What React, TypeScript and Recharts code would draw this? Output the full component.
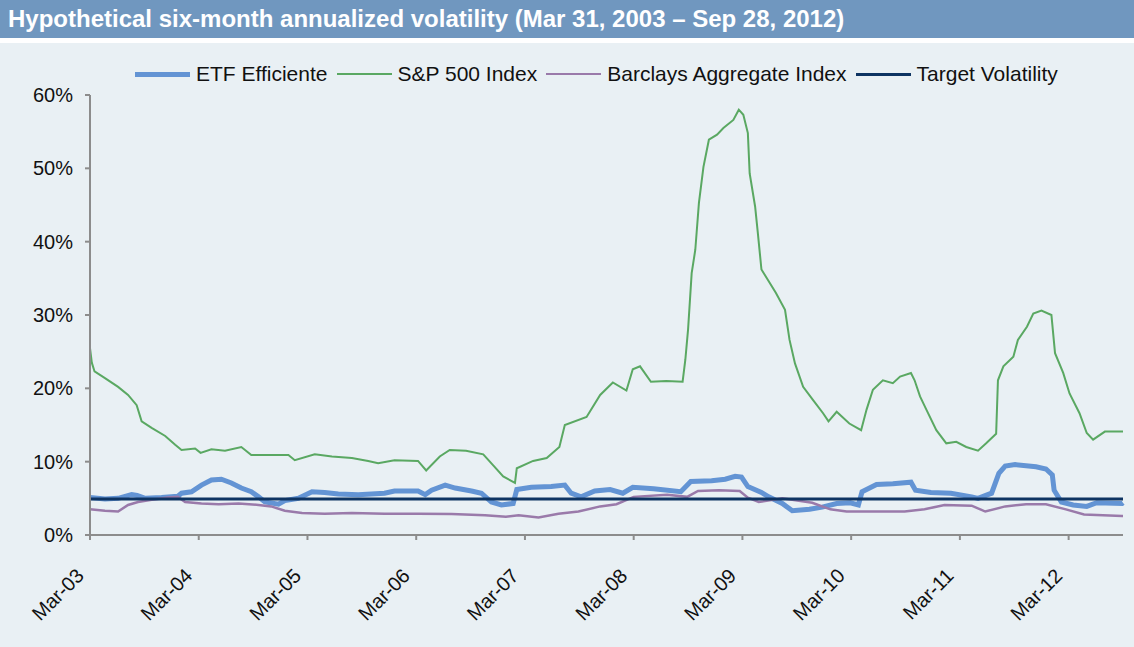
import { LineChart, Line, XAxis, YAxis } from 'recharts'

// x = months since Mar-03, y = annualized volatility in %
const yearTicks = [0, 12, 24, 36, 48, 60, 72, 84, 96, 108]
const yearLabels = ['Mar-03', 'Mar-04', 'Mar-05', 'Mar-06', 'Mar-07', 'Mar-08', 'Mar-09', 'Mar-10', 'Mar-11', 'Mar-12']
const pctTicks = [0, 10, 20, 30, 40, 50, 60]

const etfMonths = [0, 1.65, 3.1, 4.6, 5.2, 6.1, 7.9, 9.7, 10.1, 11.2, 12.3, 13.4, 14.5, 15.6, 16.7, 17.8, 18.6, 19.3, 20.8, 21.5, 23, 24.5, 25.9, 27.4, 29.6, 32.5, 33.6, 36.2, 37, 37.7, 39.2, 40.3, 42.1, 43.2, 44.3, 45.4, 46.7, 47.1, 48.7, 50.9, 52.4, 53.1, 54.2, 55.7, 57.4, 58.8, 59.9, 62.2, 65.2, 66.3, 68.6, 70.1, 71.2, 71.9, 72.6, 74.1, 74.9, 76.4, 77.5, 79.4, 80.8, 82.4, 83.9, 84.8, 85.2, 86.8, 88.6, 90.6, 91.1, 92.8, 95.0, 97.3, 98.0, 99.5, 100.3, 101.0, 102.1, 104.4, 105.5, 106.2, 106.4, 107.2, 108.5, 110.0, 111.1, 113.9, 114]
const etfValues = [5.1, 4.9, 5.0, 5.5, 5.4, 5.0, 5.1, 5.3, 5.7, 5.9, 6.8, 7.5, 7.6, 7.1, 6.4, 5.9, 5.2, 4.5, 4.2, 4.7, 5.0, 5.9, 5.8, 5.6, 5.5, 5.7, 6.0, 6.0, 5.5, 6.1, 6.8, 6.4, 6.0, 5.7, 4.5, 4.1, 4.3, 6.2, 6.5, 6.6, 6.8, 5.7, 5.2, 6.0, 6.2, 5.7, 6.5, 6.3, 5.9, 7.3, 7.4, 7.6, 8.0, 7.9, 6.6, 5.8, 5.2, 4.3, 3.3, 3.5, 3.8, 4.3, 4.4, 4.1, 5.9, 6.9, 7.0, 7.2, 6.1, 5.8, 5.7, 5.2, 5.0, 5.7, 8.4, 9.4, 9.6, 9.3, 9.0, 8.2, 6.1, 4.5, 4.1, 3.9, 4.4, 4.3, 4.4]

const spxMonths = [0, 0.2, 0.5, 1.65, 3.1, 4.2, 5.15, 5.7, 6.8, 8.3, 9.4, 10.1, 11.6, 12.2, 13.4, 14.9, 16.7, 17.8, 21.9, 22.6, 24.8, 26.7, 28.9, 30.7, 31.8, 33.6, 36.2, 37.1, 38.6, 39.7, 41.5, 43.4, 44.5, 45.6, 46.9, 47.1, 48.9, 50.4, 51.8, 52.4, 54.8, 56.3, 57.7, 59.2, 59.9, 60.7, 61.9, 63.6, 65.4, 65.7, 66, 66.4, 66.8, 67.2, 67.7, 68.3, 69.2, 69.9, 71, 71.6, 72.1, 72.6, 72.8, 73.4, 73.7, 74.1, 74.8, 75.7, 76.7, 77.2, 77.8, 78.7, 79.8, 80.9, 81.5, 82.4, 83.8, 85.1, 85.7, 86.4, 87.5, 88.6, 89.4, 90.6, 91, 91.6, 92.3, 93.4, 94.5, 95.6, 96.7, 98, 98.9, 100, 100.2, 100.8, 101.9, 102.4, 103.4, 104.1, 105, 106.1, 106.5, 107.4, 108.1, 109.2, 110, 110.7, 112, 114]
const spxValues = [25.5, 23.5, 22.3, 21.4, 20.2, 19.1, 17.7, 15.5, 14.6, 13.5, 12.3, 11.6, 11.8, 11.2, 11.7, 11.5, 12.0, 10.9, 10.9, 10.2, 11.0, 10.7, 10.5, 10.1, 9.8, 10.2, 10.1, 8.8, 10.7, 11.6, 11.5, 11.0, 9.5, 8.0, 7.1, 9.1, 10.1, 10.5, 12.0, 15.0, 16.1, 19.1, 20.8, 19.7, 22.6, 23.0, 20.9, 21.0, 20.9, 23.9, 28.0, 35.7, 38.9, 45.3, 50.2, 53.9, 54.6, 55.5, 56.6, 58.0, 57.3, 54.8, 49.3, 44.8, 41.2, 36.2, 34.8, 33.0, 30.7, 26.6, 23.4, 20.2, 18.4, 16.6, 15.5, 16.8, 15.2, 14.3, 17.1, 19.8, 21.1, 20.7, 21.6, 22.1, 21.1, 18.9, 17.1, 14.3, 12.5, 12.7, 12.0, 11.5, 12.5, 13.8, 21.1, 23.0, 24.3, 26.6, 28.4, 30.2, 30.6, 30.0, 24.8, 22.1, 19.3, 16.6, 13.9, 13.0, 14.1, 14.1]

const aggMonths = [0, 1.65, 3.1, 4.2, 5.3, 6.8, 8.6, 9.7, 10.5, 12.3, 14.2, 16.4, 18.6, 20, 21.5, 23.4, 25.9, 28.9, 32.5, 36.2, 39.9, 43.6, 45.9, 47.3, 49.5, 51.7, 53.9, 56.3, 58.1, 60.0, 63.7, 65.9, 67.1, 69.4, 71.7, 72.6, 73.8, 76.4, 79.7, 81.7, 83.5, 86.3, 89.9, 92.1, 94.3, 97.3, 98.8, 101.0, 103.3, 105.5, 107.7, 109.7, 113.9, 114]
const aggValues = [3.5, 3.3, 3.2, 4.1, 4.5, 4.8, 5.1, 5.2, 4.5, 4.3, 4.2, 4.3, 4.1, 3.9, 3.3, 3.0, 2.9, 3.0, 2.9, 2.9, 2.85, 2.7, 2.5, 2.7, 2.4, 2.9, 3.2, 3.9, 4.2, 5.2, 5.5, 5.2, 6.0, 6.1, 6.0, 5.1, 4.5, 5.0, 4.4, 3.5, 3.2, 3.2, 3.2, 3.5, 4.1, 4.0, 3.2, 3.9, 4.2, 4.2, 3.5, 2.8, 2.6, 2.6]

const targetMonths = [0, 114]
const targetValues = [4.9, 4.9]

const zip = (xs: number[], ys: number[]) => xs.map((m, i) => ({ m, v: ys[i] }))

const FONT = '"Liberation Sans", Arial, sans-serif'

const series = [
  { name: 'ETF Efficiente', color: '#6394d4', width: 5, data: zip(etfMonths, etfValues) },
  { name: 'S&P 500 Index', color: '#5aa862', width: 2, data: zip(spxMonths, spxValues) },
  { name: 'Barclays Aggregate Index', color: '#9a7aaa', width: 2.5, data: zip(aggMonths, aggValues) },
  { name: 'Target Volatility', color: '#0e3462', width: 3, data: zip(targetMonths, targetValues) },
]

function MonthTick({ x, y, payload }: any) {
  const i = yearTicks.indexOf(payload.value)
  const ax = x - 5
  const ay = y + 37
  return (
    <text x={ax} y={ay} transform={`rotate(-45 ${ax} ${ay})`} textAnchor="end"
      fontSize={20} fill="#111" fontFamily={FONT}>
      {yearLabels[i]}
    </text>
  )
}

export default function App() {
  return (
    <div style={{ position: 'fixed', top: 0, left: 0, width: 1134, height: 647, background: '#fff', fontFamily: FONT }}>
      <div style={{ height: 38, background: '#7097bf', color: '#fff', fontWeight: 700, fontSize: 24, lineHeight: '38px', paddingLeft: 8, whiteSpace: 'nowrap' }}>
        Hypothetical six-month annualized volatility (Mar 31, 2003 – Sep 28, 2012)
      </div>
      <div style={{ position: 'absolute', top: 43, left: 0, width: 1134, height: 604, background: '#e9f0f4' }}>
        <LineChart width={1134} height={604} margin={{ top: 52, right: 11, left: 0, bottom: 0 }}>
          <XAxis type="number" dataKey="m" domain={[0, 114]} ticks={yearTicks} allowDuplicatedCategory={false}
            height={112} tickSize={5} tickMargin={0} stroke="#8c8c8c" strokeWidth={2}
            tick={<MonthTick />} interval={0} />
          <YAxis type="number" domain={[0, 60]} ticks={pctTicks} width={90} tickSize={5} tickMargin={12}
            stroke="#8c8c8c" strokeWidth={2} tickFormatter={(v) => `${v}%`}
            tick={{ fontSize: 20, fill: '#111', fontFamily: FONT }} />
          {series.map((s) => (
            <Line key={s.name} data={s.data} dataKey="v" name={s.name} type="linear" stroke={s.color}
              strokeWidth={s.width} dot={false} isAnimationActive={false} />
          ))}
        </LineChart>
        <div style={{ position: 'absolute', top: 19, left: 135, display: 'flex', alignItems: 'center', fontSize: 21, color: '#111', whiteSpace: 'nowrap' }}>
          {series.map((s) => (
            <div key={s.name} style={{ display: 'flex', alignItems: 'center', marginRight: 9 }}>
              <span style={{ display: 'inline-block', width: 55, height: s.width, background: s.color, marginRight: 6 }} />
              <span>{s.name}</span>
            </div>
          ))}
        </div>
      </div>
    </div>
  )
}
